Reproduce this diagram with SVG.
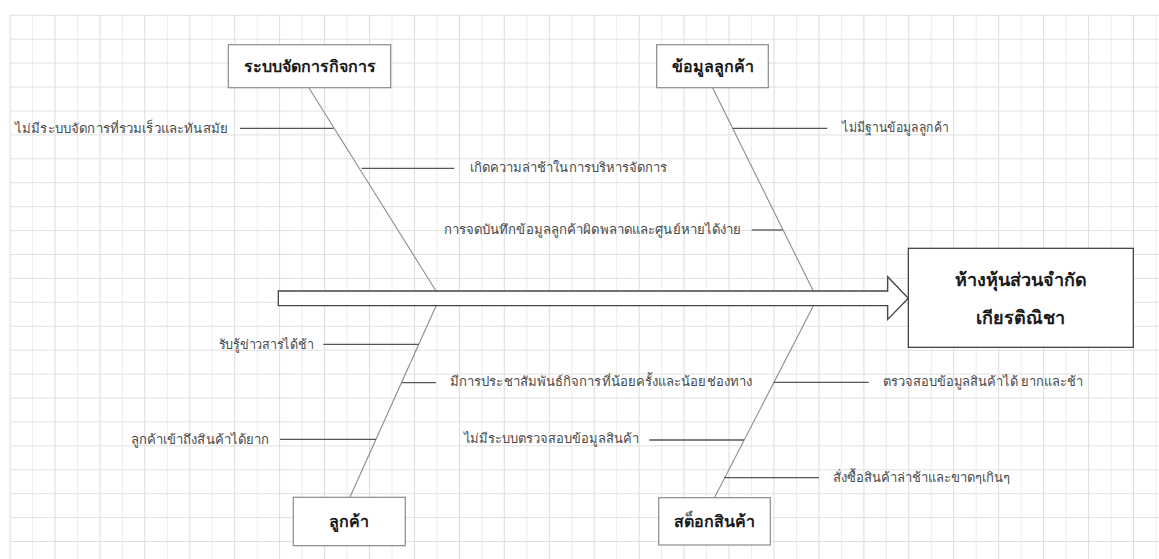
<svg xmlns="http://www.w3.org/2000/svg" width="1159" height="559" viewBox="0 0 1159 559">
<style>
.bg{fill:#ffffff}
.gv1{stroke:#dcdcdc;stroke-width:1;fill:none}
.gv2{stroke:#ececec;stroke-width:1;fill:none}
.gh{stroke:#e0e0e0;stroke-width:1;fill:none}
.box{fill:#ffffff;stroke:#8a8a8a;stroke-width:1.2}
.mbox{fill:#ffffff;stroke:#333333;stroke-width:1.2}
.bt{font-family:"Noto Sans","DejaVu Sans","Liberation Sans",sans-serif;font-size:16px;font-weight:bold;fill:#1a1a1a;text-anchor:middle}
.mt{font-family:"Noto Sans","DejaVu Sans","Liberation Sans",sans-serif;font-size:18px;font-weight:bold;fill:#1a1a1a;text-anchor:middle}
.lb{font-family:"Noto Sans","DejaVu Sans","Liberation Sans",sans-serif;font-size:13px;fill:#4a4a4a}
.bone{stroke:#8c8c8c;stroke-width:1.1;fill:none}
.sub{stroke:#555555;stroke-width:1.3;fill:none}
.arrow{fill:#ffffff;stroke:#444444;stroke-width:1.3}
</style>
<rect class="bg" x="0" y="0" width="1159" height="559"/>
<g id="grid">
<path class="gv1" d="M10 15V559M54.9 15V559M99.9 15V559M144.8 15V559M189.8 15V559M234.7 15V559M279.6 15V559M324.6 15V559M369.5 15V559M414.5 15V559M459.4 15V559M504.3 15V559M549.3 15V559M594.2 15V559M639.2 15V559M684.1 15V559M729 15V559M774 15V559M818.9 15V559M863.9 15V559M908.8 15V559M953.7 15V559M998.7 15V559M1043.6 15V559M1088.6 15V559M1133.5 15V559"/>
<path class="gv2" d="M32.5 15V559M77.4 15V559M122.4 15V559M167.3 15V559M212.2 15V559M257.2 15V559M302.1 15V559M347.1 15V559M392 15V559M436.9 15V559M481.9 15V559M526.8 15V559M571.8 15V559M616.7 15V559M661.6 15V559M706.6 15V559M751.5 15V559M796.5 15V559M841.4 15V559M886.3 15V559M931.3 15V559M976.2 15V559M1021.2 15V559M1066.1 15V559M1111 15V559M1156 15V559"/>
<path class="gh" d="M10 15.3H1159M10 39.2H1159M10 63.1H1159M10 87.1H1159M10 111H1159M10 134.9H1159M10 158.8H1159M10 182.7H1159M10 206.7H1159M10 230.6H1159M10 254.5H1159M10 278.4H1159M10 302.3H1159M10 326.3H1159M10 350.2H1159M10 374.1H1159M10 398H1159M10 421.9H1159M10 445.9H1159M10 469.8H1159M10 493.7H1159M10 517.6H1159M10 541.5H1159"/>
</g>
<g id="connectors">
<line class="bone" x1="309" y1="88" x2="436" y2="291"/>
<line class="bone" x1="436" y1="306" x2="350" y2="497"/>
<line class="bone" x1="712.7" y1="88" x2="813.3" y2="291"/>
<line class="bone" x1="813.3" y1="306" x2="714.3" y2="498"/>
<line class="sub" x1="240" y1="128.3" x2="333.5" y2="128.3"/>
<line class="sub" x1="361.5" y1="168.3" x2="454.3" y2="168.3"/>
<line class="sub" x1="751.7" y1="230" x2="782.5" y2="230"/>
<line class="sub" x1="732.7" y1="128.3" x2="827.3" y2="128.3"/>
<line class="sub" x1="323.3" y1="344.3" x2="418.8" y2="344.3"/>
<line class="sub" x1="401.6" y1="382.7" x2="436" y2="382.7"/>
<line class="sub" x1="280" y1="439.3" x2="376" y2="439.3"/>
<line class="sub" x1="649.3" y1="440" x2="743.8" y2="440"/>
<line class="sub" x1="773.8" y1="382.3" x2="868.7" y2="382.3"/>
<line class="sub" x1="724.2" y1="477.7" x2="819" y2="477.7"/>
</g>
<g id="spine">
<polygon class="arrow" points="278.3,291 887.7,291 887.7,276.7 908.3,298.3 887.7,319.5 887.7,305.7 278.3,305.7"/>
</g>
<g id="node-effect">
<rect class="mbox" x="908.3" y="248.3" width="225" height="99"/>
<text class="mt" x="1020.8" y="286">ห้างหุ้นส่วนจำกัด</text>
<text class="mt" x="1020.8" y="324">เกียรติณิชา</text>
</g>
<g id="node-management">
<rect class="box" x="228.3" y="44.7" width="162.4" height="43"/>
<text class="bt" x="309.5" y="72">ระบบจัดการกิจการ</text>
</g>
<g id="node-customer-data">
<rect class="box" x="656.7" y="44.7" width="111.6" height="43"/>
<text class="bt" x="712.5" y="72">ข้อมูลลูกค้า</text>
</g>
<g id="node-customer">
<rect class="box" x="293.3" y="497.3" width="112" height="48.4"/>
<text class="bt" x="349.3" y="527">ลูกค้า</text>
</g>
<g id="node-stock">
<rect class="box" x="658.7" y="497.7" width="111.6" height="47.3"/>
<text class="bt" x="714.5" y="527">สต็อกสินค้า</text>
</g>
<g id="labels">
<text class="lb" x="15" y="132.5" textLength="213" lengthAdjust="spacingAndGlyphs">ไม่มีระบบจัดการที่รวมเร็วและทันสมัย</text>
<text class="lb" x="470" y="172" textLength="197" lengthAdjust="spacingAndGlyphs">เกิดความล่าช้าในการบริหารจัดการ</text>
<text class="lb" x="443.5" y="234" textLength="298" lengthAdjust="spacingAndGlyphs">การจดบันทึกข้อมูลลูกค้าผิดพลาดและศูนย์หายได้ง่าย</text>
<text class="lb" x="842" y="131.5" textLength="107" lengthAdjust="spacingAndGlyphs">ไม่มีฐานข้อมูลลูกค้า</text>
<text class="lb" x="218.5" y="348.5" textLength="95" lengthAdjust="spacingAndGlyphs">รับรู้ข่าวสารได้ช้า</text>
<text class="lb" x="450" y="385.5" textLength="302" lengthAdjust="spacingAndGlyphs">มีการประชาสัมพันธ์กิจการที่น้อยครั้งและน้อยช่องทาง</text>
<text class="lb" x="131" y="443.5" textLength="138" lengthAdjust="spacingAndGlyphs">ลูกค้าเข้าถึงสินค้าได้ยาก</text>
<text class="lb" x="463.5" y="442.5" textLength="175" lengthAdjust="spacingAndGlyphs">ไม่มีระบบตรวจสอบข้อมูลสินค้า</text>
<text class="lb" x="883" y="385.5" textLength="200" lengthAdjust="spacingAndGlyphs">ตรวจสอบข้อมูลสินค้าได้ ยากและช้า</text>
<text class="lb" x="832.5" y="481.5" textLength="177.5" lengthAdjust="spacingAndGlyphs">สั่งซื้อสินค้าล่าช้าและขาดๆเกินๆ</text>
</g>
</svg>
